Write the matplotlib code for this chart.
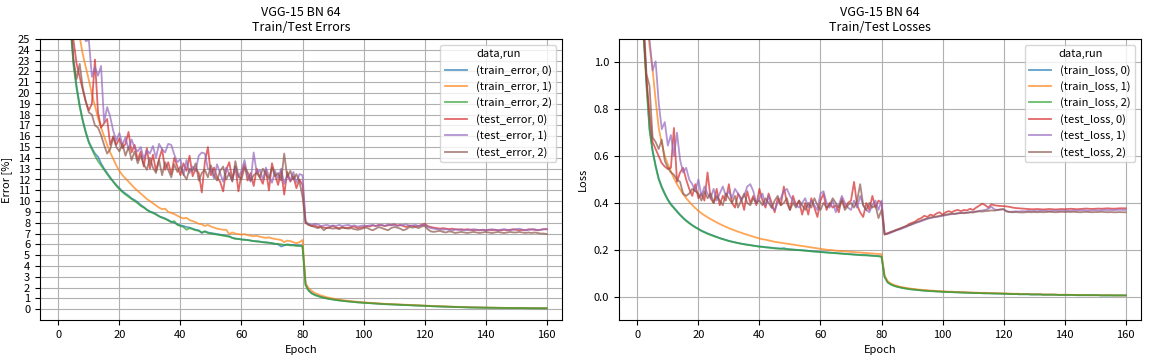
import matplotlib
matplotlib.use("Agg")
import matplotlib.pyplot as plt
import numpy as np

plt.rcParams['font.family'] = ['Noto Sans CJK JP', 'DejaVu Sans']
plt.rcParams['font.size'] = 8

epochs = list(range(1, 161))

# ---- errors [%] ----
train_error_0 = [
    62.0, 42.0, 32.0, 26.5, 22.8, 20.6, 18.9, 17.5, 16.4, 15.5,
    14.9, 14.4, 14.1, 13.5, 13.0, 12.6, 12.2, 11.8, 11.5, 11.2,
    10.9, 10.7, 10.5, 10.25, 10.1, 9.9, 9.65, 9.45, 9.2, 9.05,
    8.95, 8.8, 8.6, 8.5, 8.4, 8.25, 8.1, 8.0, 7.85, 7.75,
    7.7, 7.6, 7.55, 7.45, 7.35, 7.3, 7.05, 7.2, 7.1, 7.05,
    7.0, 6.95, 6.9, 6.85, 6.8, 6.75, 6.6, 6.55, 6.5, 6.45,
    6.45, 6.4, 6.35, 6.3, 6.3, 6.25, 6.2, 6.2, 6.15, 6.1,
    6.05, 6.0, 5.8, 5.9, 6.0, 5.95, 5.95, 5.9, 5.9, 5.85,
    2.3, 1.75, 1.5, 1.35, 1.25, 1.15, 1.08, 1.0, 0.95, 0.9,
    0.86, 0.82, 0.78, 0.75, 0.72, 0.7, 0.67, 0.64, 0.62, 0.6,
    0.58, 0.56, 0.54, 0.52, 0.5, 0.49, 0.47, 0.46, 0.44, 0.43,
    0.42, 0.41, 0.4, 0.38, 0.37, 0.36, 0.35, 0.34, 0.33, 0.32,
    0.3, 0.28, 0.27, 0.26, 0.25, 0.24, 0.23, 0.22, 0.21, 0.2,
    0.19, 0.18, 0.18, 0.17, 0.16, 0.16, 0.15, 0.15, 0.14, 0.14,
    0.13, 0.13, 0.12, 0.12, 0.12, 0.11, 0.11, 0.11, 0.1, 0.1,
    0.1, 0.1, 0.09, 0.09, 0.09, 0.09, 0.08, 0.08, 0.08, 0.08]

train_error_1 = [
    70.0, 50.0, 39.0, 33.0, 29.5, 27.3, 25.2, 23.6, 22.4, 21.2,
    19.9, 18.8, 17.7, 16.8, 16.0, 15.2, 14.5, 13.9, 13.3, 12.8,
    12.4, 12.1, 11.8, 11.5, 11.2, 10.95, 10.7, 10.45, 10.2, 10.0,
    9.8, 9.6, 9.4, 9.25, 9.3, 9.0, 8.9, 8.8, 8.65, 8.5,
    8.4, 8.45, 8.25, 8.15, 8.05, 7.9, 7.85, 7.7, 7.8, 7.65,
    7.55, 7.45, 7.4, 7.35, 7.35, 6.95, 7.1, 7.0, 6.95, 6.9,
    6.95, 6.85, 6.8, 6.75, 6.8, 6.7, 6.65, 6.6, 6.65, 6.55,
    6.5, 6.45, 6.4, 6.2, 6.35, 6.3, 6.2, 6.1, 6.2, 6.4,
    2.4, 1.95, 1.7, 1.5, 1.38, 1.27, 1.18, 1.1, 1.04, 0.98,
    0.93, 0.88, 0.84, 0.8, 0.77, 0.74, 0.71, 0.68, 0.66, 0.63,
    0.61, 0.59, 0.57, 0.55, 0.53, 0.51, 0.5, 0.48, 0.47, 0.46,
    0.44, 0.43, 0.42, 0.41, 0.39, 0.38, 0.37, 0.36, 0.35, 0.34,
    0.32, 0.3, 0.29, 0.28, 0.27, 0.26, 0.25, 0.24, 0.23, 0.22,
    0.21, 0.2, 0.19, 0.19, 0.18, 0.17, 0.17, 0.16, 0.16, 0.15,
    0.15, 0.14, 0.14, 0.13, 0.13, 0.12, 0.12, 0.12, 0.11, 0.11,
    0.11, 0.1, 0.1, 0.1, 0.1, 0.09, 0.09, 0.09, 0.09, 0.09]

train_error_2 = [
    60.0, 41.0, 31.0, 26.0, 22.5, 20.4, 18.7, 17.4, 16.3, 15.4,
    14.8, 14.2, 13.7, 13.3, 12.9, 12.5, 12.1, 11.8, 11.4, 11.1,
    10.85, 10.6, 10.4, 10.2, 10.0, 9.8, 9.55, 9.4, 9.2, 9.0,
    8.9, 8.75, 8.6, 8.45, 8.35, 8.2, 8.05, 8.15, 7.8, 7.7,
    7.6, 7.35, 7.5, 7.4, 7.3, 7.25, 7.1, 7.2, 7.05, 7.0,
    6.95, 6.9, 6.85, 6.8, 6.75, 6.7, 6.6, 6.5, 6.5, 6.45,
    6.4, 6.4, 6.35, 6.3, 6.25, 6.25, 6.2, 6.15, 6.15, 6.1,
    6.05, 6.05, 6.0, 5.95, 5.95, 5.9, 5.9, 5.85, 5.85, 5.8,
    2.2, 1.7, 1.45, 1.3, 1.2, 1.12, 1.05, 0.98, 0.93, 0.88,
    0.84, 0.8, 0.77, 0.74, 0.71, 0.68, 0.66, 0.63, 0.61, 0.59,
    0.57, 0.55, 0.53, 0.51, 0.5, 0.48, 0.47, 0.45, 0.44, 0.43,
    0.41, 0.4, 0.39, 0.38, 0.37, 0.36, 0.35, 0.34, 0.33, 0.32,
    0.3, 0.28, 0.27, 0.26, 0.25, 0.24, 0.23, 0.22, 0.21, 0.2,
    0.19, 0.19, 0.18, 0.17, 0.17, 0.16, 0.15, 0.15, 0.14, 0.14,
    0.13, 0.13, 0.13, 0.12, 0.12, 0.11, 0.11, 0.11, 0.1, 0.1,
    0.1, 0.1, 0.1, 0.09, 0.09, 0.09, 0.09, 0.08, 0.08, 0.08]

test_error_0 = [
    70.0, 45.0, 33.0, 26.5, 24.8, 22.7, 21.5, 20.3, 19.2, 18.4,
    19.0, 23.1, 18.2, 16.8, 17.2, 17.6, 15.2, 16.0, 15.2, 15.8,
    14.9, 15.3, 16.4, 14.5, 15.2, 13.8, 14.6, 13.2, 14.9, 13.0,
    14.3, 12.8, 13.9, 14.8, 12.9, 13.6, 12.5, 14.0, 13.2, 12.4,
    13.5, 12.8, 14.2, 12.3, 13.0, 12.6, 10.8, 13.6, 15.0, 12.4,
    13.1, 12.2, 11.8, 10.9, 12.9, 13.6, 12.0, 13.2, 10.9, 12.5,
    13.4, 11.9, 12.6, 11.4, 13.0, 12.2, 11.6, 12.9, 11.0, 13.5,
    12.4, 11.5, 12.8, 10.6, 12.7, 11.8, 12.3, 11.2, 12.0, 11.5,
    8.0, 7.8, 7.7, 7.75, 7.6, 7.65, 7.55, 7.5, 7.6, 7.7,
    7.55, 7.5, 7.6, 7.5, 7.55, 7.6, 7.65, 7.5, 7.55, 7.6,
    7.7, 7.65, 7.75, 7.7, 7.8, 7.75, 7.7, 7.75, 7.8, 7.85,
    7.75, 7.8, 7.7, 7.6, 7.75, 7.7, 7.65, 7.7, 7.8, 7.9,
    7.7, 7.6, 7.55, 7.5, 7.45, 7.5, 7.45, 7.4, 7.45, 7.4,
    7.35, 7.4, 7.35, 7.4, 7.35, 7.3, 7.35, 7.3, 7.35, 7.3,
    7.35, 7.3, 7.35, 7.3, 7.3, 7.35, 7.3, 7.35, 7.4, 7.35,
    7.3, 7.35, 7.3, 7.35, 7.4, 7.35, 7.3, 7.35, 7.4, 7.4]

test_error_1 = [
    80.0, 58.0, 44.0, 36.0, 31.0, 28.5, 27.0, 25.8, 24.8, 24.9,
    21.5, 22.4, 21.6, 22.5, 17.3, 18.7, 17.8, 16.5, 15.6, 16.3,
    15.2, 15.9, 14.8, 15.7, 14.9, 14.6, 15.0, 13.9, 14.7, 14.4,
    15.1, 14.0, 15.3, 14.8, 14.5, 15.3, 15.2, 14.3, 13.6, 13.9,
    12.4, 13.8, 12.6, 13.2, 12.8, 14.2, 14.5, 14.4, 13.0, 12.9,
    12.1, 13.4, 12.6, 11.8, 13.1, 12.5, 11.9, 13.2, 12.2, 12.8,
    13.8, 12.3, 11.8, 14.5, 12.6, 12.9, 12.0, 13.1, 12.3, 11.7,
    12.8, 12.1, 13.0, 11.6, 12.4, 11.9, 12.7, 11.7, 12.5, 12.4,
    8.1, 7.9, 7.8, 7.9, 7.85, 7.7, 7.75, 7.8, 7.7, 7.75,
    7.7, 7.8, 7.7, 7.75, 7.8, 7.7, 7.75, 7.65, 7.7, 7.75,
    7.7, 7.75, 7.8, 7.7, 7.75, 7.8, 7.7, 7.85, 7.75, 7.8,
    7.7, 7.75, 7.8, 7.85, 7.7, 7.75, 7.8, 7.7, 7.75, 7.8,
    7.6, 7.5, 7.45, 7.4, 7.4, 7.35, 7.4, 7.35, 7.3, 7.35,
    7.4, 7.3, 7.35, 7.3, 7.35, 7.4, 7.35, 7.3, 7.35, 7.3,
    7.35, 7.4, 7.35, 7.3, 7.35, 7.4, 7.35, 7.3, 7.35, 7.4,
    7.45, 7.35, 7.3, 7.4, 7.35, 7.4, 7.3, 7.35, 7.4, 7.4]

test_error_2 = [
    75.0, 46.0, 33.0, 27.0, 23.0, 21.3, 22.7, 20.5, 19.2, 18.2,
    18.0, 17.0, 16.8, 16.1, 15.2, 14.4, 14.8, 15.9, 15.0, 14.6,
    15.3, 14.2, 15.0, 13.8, 14.6, 13.5, 14.2, 13.4, 12.9, 14.0,
    13.1, 12.6, 13.8, 12.4, 13.6, 12.9, 12.2, 13.4, 12.7, 13.2,
    12.5, 12.0, 13.0, 12.8, 13.5, 11.9, 12.6, 12.9, 12.2, 13.3,
    12.4, 11.9, 12.8, 13.2, 12.0, 12.6, 11.8, 13.7, 12.3, 12.0,
    13.1, 12.7, 11.9, 12.4, 12.6, 12.2, 13.0, 12.5, 12.1, 13.1,
    12.3, 12.6, 11.9, 14.4, 12.2, 12.8, 12.0, 12.5, 11.8, 10.4,
    8.0, 7.8, 7.7, 7.6, 7.5, 7.6, 7.3, 7.55, 7.5, 7.45,
    7.5, 7.4, 7.55, 7.5, 7.45, 7.5, 7.4, 7.35, 7.4, 7.5,
    7.55, 7.4, 7.3, 7.45, 7.6, 7.5, 7.4, 7.3, 7.5, 7.6,
    7.55, 7.45, 7.3, 7.4, 7.6, 7.55, 7.6, 7.5, 7.65, 7.7,
    7.4, 7.2, 7.15, 7.2, 7.25, 7.15, 7.1, 7.2, 7.15, 7.05,
    7.1, 7.15, 7.1, 7.05, 7.1, 7.15, 7.1, 7.05, 7.1, 7.15,
    7.1, 7.05, 7.1, 7.15, 7.1, 7.05, 7.1, 7.15, 7.1, 7.1,
    7.15, 7.1, 7.05, 7.1, 7.05, 7.1, 7.05, 7.0, 7.0, 6.95]

# ---- losses ----
train_loss_0 = [
    1.9, 1.15, 0.92, 0.72, 0.625, 0.56, 0.505, 0.47, 0.44, 0.415,
    0.395, 0.38, 0.365, 0.35, 0.337, 0.325, 0.315, 0.305, 0.297, 0.289,
    0.282, 0.276, 0.27, 0.265, 0.26, 0.255, 0.25, 0.246, 0.242, 0.238,
    0.235, 0.232, 0.229, 0.226, 0.224, 0.222, 0.22, 0.218, 0.216, 0.214,
    0.213, 0.211, 0.21, 0.209, 0.207, 0.206, 0.205, 0.207, 0.203, 0.202,
    0.201, 0.2, 0.199, 0.198, 0.197, 0.195, 0.194, 0.193, 0.192, 0.191,
    0.19, 0.189, 0.188, 0.187, 0.186, 0.185, 0.184, 0.183, 0.182, 0.181,
    0.18, 0.179, 0.178, 0.178, 0.177, 0.176, 0.175, 0.174, 0.173, 0.171,
    0.085, 0.062, 0.053, 0.047, 0.043, 0.04, 0.037, 0.035, 0.033, 0.031,
    0.03, 0.028, 0.027, 0.026, 0.025, 0.024, 0.023, 0.022, 0.022, 0.021,
    0.02, 0.02, 0.019, 0.019, 0.018, 0.018, 0.017, 0.017, 0.016, 0.016,
    0.015, 0.015, 0.015, 0.014, 0.014, 0.014, 0.013, 0.013, 0.013, 0.012,
    0.012, 0.011, 0.011, 0.011, 0.01, 0.01, 0.01, 0.01, 0.009, 0.009,
    0.009, 0.009, 0.008, 0.008, 0.008, 0.008, 0.008, 0.007, 0.007, 0.007,
    0.007, 0.007, 0.007, 0.006, 0.006, 0.006, 0.006, 0.006, 0.006, 0.006,
    0.006, 0.005, 0.005, 0.005, 0.005, 0.005, 0.005, 0.005, 0.005, 0.005]

train_loss_1 = [
    2.1, 1.5, 1.2, 1.07, 0.97, 0.84, 0.72, 0.655, 0.6, 0.565,
    0.535, 0.505, 0.48, 0.458, 0.438, 0.42, 0.405, 0.391, 0.378, 0.366,
    0.356, 0.347, 0.339, 0.331, 0.324, 0.317, 0.31, 0.304, 0.298, 0.292,
    0.287, 0.282, 0.277, 0.273, 0.268, 0.264, 0.26, 0.256, 0.252, 0.248,
    0.245, 0.243, 0.24, 0.237, 0.234, 0.232, 0.23, 0.228, 0.226, 0.224,
    0.222, 0.22, 0.218, 0.216, 0.214, 0.212, 0.21, 0.208, 0.206, 0.204,
    0.202, 0.2, 0.199, 0.198, 0.196, 0.195, 0.194, 0.193, 0.192, 0.191,
    0.19, 0.189, 0.188, 0.187, 0.186, 0.185, 0.184, 0.183, 0.182, 0.181,
    0.09, 0.066, 0.056, 0.05, 0.046, 0.042, 0.04, 0.037, 0.035, 0.033,
    0.032, 0.03, 0.029, 0.028, 0.027, 0.026, 0.025, 0.024, 0.023, 0.023,
    0.022, 0.021, 0.021, 0.02, 0.02, 0.019, 0.019, 0.018, 0.018, 0.017,
    0.017, 0.016, 0.016, 0.016, 0.015, 0.015, 0.015, 0.014, 0.014, 0.014,
    0.013, 0.013, 0.012, 0.012, 0.012, 0.011, 0.011, 0.011, 0.01, 0.01,
    0.01, 0.01, 0.009, 0.009, 0.009, 0.009, 0.008, 0.008, 0.008, 0.008,
    0.008, 0.007, 0.007, 0.007, 0.007, 0.007, 0.007, 0.006, 0.006, 0.006,
    0.006, 0.006, 0.006, 0.006, 0.006, 0.005, 0.005, 0.005, 0.005, 0.005]

train_loss_2 = [
    1.85, 1.12, 0.9, 0.71, 0.62, 0.555, 0.5, 0.465, 0.437, 0.412,
    0.392, 0.377, 0.362, 0.348, 0.335, 0.323, 0.313, 0.304, 0.295, 0.288,
    0.28, 0.274, 0.268, 0.263, 0.258, 0.254, 0.249, 0.245, 0.241, 0.237,
    0.234, 0.231, 0.228, 0.226, 0.223, 0.221, 0.219, 0.217, 0.215, 0.213,
    0.212, 0.21, 0.209, 0.207, 0.206, 0.205, 0.204, 0.203, 0.202, 0.201,
    0.2, 0.199, 0.198, 0.197, 0.196, 0.195, 0.193, 0.192, 0.191, 0.19,
    0.189, 0.188, 0.187, 0.186, 0.185, 0.184, 0.183, 0.182, 0.181, 0.18,
    0.179, 0.178, 0.177, 0.176, 0.176, 0.175, 0.174, 0.173, 0.172, 0.17,
    0.083, 0.06, 0.052, 0.046, 0.042, 0.039, 0.036, 0.034, 0.032, 0.03,
    0.029, 0.028, 0.026, 0.025, 0.024, 0.023, 0.023, 0.022, 0.021, 0.02,
    0.02, 0.019, 0.019, 0.018, 0.018, 0.017, 0.017, 0.016, 0.016, 0.015,
    0.015, 0.015, 0.014, 0.014, 0.014, 0.013, 0.013, 0.013, 0.012, 0.012,
    0.012, 0.011, 0.011, 0.011, 0.01, 0.01, 0.01, 0.01, 0.009, 0.009,
    0.009, 0.009, 0.008, 0.008, 0.008, 0.008, 0.008, 0.007, 0.007, 0.007,
    0.007, 0.007, 0.007, 0.006, 0.006, 0.006, 0.006, 0.006, 0.006, 0.006,
    0.006, 0.005, 0.005, 0.005, 0.005, 0.005, 0.005, 0.005, 0.005, 0.005]

test_loss_0 = [
    1.8, 1.15, 0.93, 0.78, 0.66, 0.63, 0.6, 0.57, 0.555, 0.545,
    0.55, 0.72, 0.49, 0.53, 0.55, 0.5, 0.46, 0.43, 0.48, 0.42,
    0.44, 0.41, 0.53, 0.42, 0.40, 0.46, 0.39, 0.43, 0.41, 0.48,
    0.40, 0.38, 0.44, 0.42, 0.37, 0.45, 0.40, 0.43, 0.39, 0.46,
    0.41, 0.38, 0.44, 0.40, 0.36, 0.42, 0.39, 0.47, 0.40, 0.37,
    0.43, 0.39, 0.41, 0.35, 0.40, 0.35, 0.42, 0.38, 0.34, 0.41,
    0.44, 0.37, 0.40, 0.38, 0.39, 0.36, 0.42, 0.38, 0.40, 0.41,
    0.49, 0.39, 0.36, 0.34, 0.40, 0.37, 0.43, 0.38, 0.41, 0.40,
    0.265, 0.27, 0.275, 0.28, 0.285, 0.29, 0.295, 0.30, 0.31, 0.315,
    0.32, 0.33, 0.335, 0.345, 0.34, 0.35, 0.345, 0.355, 0.36, 0.35,
    0.36, 0.365, 0.36, 0.367, 0.37, 0.365, 0.37, 0.368, 0.375, 0.37,
    0.38, 0.388, 0.397, 0.39, 0.38, 0.394, 0.39, 0.388, 0.387, 0.386,
    0.385, 0.383, 0.38, 0.378, 0.377, 0.376, 0.375, 0.374, 0.373, 0.373,
    0.374, 0.373, 0.372, 0.373, 0.374, 0.373, 0.372, 0.373, 0.374, 0.373,
    0.374, 0.375, 0.374, 0.373, 0.374, 0.375, 0.376, 0.375, 0.374, 0.375,
    0.376, 0.375, 0.376, 0.377, 0.376, 0.375, 0.376, 0.377, 0.377, 0.377]

test_loss_1 = [
    2.0, 1.5, 1.2, 1.1, 0.965, 1.005, 0.83, 0.715, 0.745, 0.645,
    0.69, 0.6, 0.70, 0.585, 0.53, 0.55, 0.5, 0.48, 0.45, 0.5,
    0.43, 0.47, 0.44, 0.42, 0.46, 0.41, 0.44, 0.47, 0.43, 0.45,
    0.42, 0.46, 0.44, 0.41, 0.43, 0.47, 0.48, 0.45, 0.40, 0.42,
    0.44, 0.39, 0.43, 0.38, 0.37, 0.40, 0.42, 0.45, 0.46, 0.43,
    0.41, 0.39, 0.38, 0.40, 0.42, 0.38, 0.41, 0.39, 0.37, 0.44,
    0.45, 0.40, 0.38, 0.41, 0.36, 0.39, 0.43, 0.40, 0.38, 0.37,
    0.41, 0.38, 0.43, 0.39, 0.37, 0.36, 0.39, 0.41, 0.37, 0.41,
    0.27, 0.268, 0.272, 0.278, 0.283, 0.287, 0.292, 0.297, 0.303, 0.308,
    0.313, 0.318, 0.322, 0.327, 0.332, 0.335, 0.338, 0.34, 0.342, 0.345,
    0.347, 0.35, 0.352, 0.354, 0.356, 0.357, 0.359, 0.358, 0.36, 0.362,
    0.364, 0.366, 0.368, 0.37, 0.375, 0.384, 0.372, 0.37, 0.372, 0.373,
    0.365, 0.362, 0.363, 0.364, 0.363, 0.365, 0.364, 0.366, 0.365, 0.366,
    0.365, 0.366, 0.367, 0.366, 0.365, 0.366, 0.367, 0.366, 0.368, 0.367,
    0.366, 0.367, 0.368, 0.367, 0.368, 0.369, 0.368, 0.367, 0.368, 0.369,
    0.368, 0.369, 0.37, 0.369, 0.37, 0.369, 0.37, 0.371, 0.37, 0.37]

test_loss_2 = [
    1.9, 1.2, 0.95, 0.9, 0.68, 0.66, 0.63, 0.67, 0.58, 0.55,
    0.53, 0.52, 0.5, 0.49, 0.44, 0.43, 0.44, 0.46, 0.45, 0.44,
    0.41, 0.45, 0.42, 0.44, 0.40, 0.43, 0.41, 0.39, 0.44, 0.42,
    0.40, 0.43, 0.38, 0.41, 0.44, 0.40, 0.39, 0.42, 0.40, 0.41,
    0.39, 0.42, 0.40, 0.38, 0.41, 0.43, 0.39, 0.40, 0.42, 0.37,
    0.40, 0.38, 0.41, 0.39, 0.37, 0.40, 0.38, 0.42, 0.39, 0.37,
    0.40, 0.38, 0.39, 0.42, 0.40, 0.38, 0.41, 0.37, 0.39, 0.40,
    0.38, 0.41, 0.48, 0.39, 0.37, 0.40, 0.38, 0.39, 0.335, 0.37,
    0.265, 0.27, 0.276, 0.28, 0.286, 0.29, 0.296, 0.301, 0.305, 0.31,
    0.316, 0.32, 0.325, 0.33, 0.334, 0.338, 0.34, 0.342, 0.345, 0.347,
    0.35, 0.352, 0.354, 0.353, 0.355, 0.357, 0.356, 0.358, 0.36, 0.359,
    0.362, 0.364, 0.363, 0.365, 0.366, 0.368, 0.367, 0.37, 0.372, 0.373,
    0.363, 0.361, 0.36, 0.361, 0.36, 0.359, 0.36, 0.361, 0.36, 0.361,
    0.36, 0.361, 0.36, 0.361, 0.362, 0.361, 0.36, 0.361, 0.362, 0.361,
    0.362, 0.361, 0.362, 0.361, 0.36, 0.361, 0.362, 0.361, 0.36, 0.361,
    0.361, 0.362, 0.361, 0.36, 0.361, 0.36, 0.36, 0.361, 0.36, 0.36]

colors = ['#1f77b4', '#ff7f0e', '#2ca02c', '#d62728', '#9467bd', '#8c564b']

error_series = [
    ('(train_error, 0)', train_error_0), ('(train_error, 1)', train_error_1),
    ('(train_error, 2)', train_error_2), ('(test_error, 0)', test_error_0),
    ('(test_error, 1)', test_error_1), ('(test_error, 2)', test_error_2)]
loss_series = [
    ('(train_loss, 0)', train_loss_0), ('(train_loss, 1)', train_loss_1),
    ('(train_loss, 2)', train_loss_2), ('(test_loss, 0)', test_loss_0),
    ('(test_loss, 1)', test_loss_1), ('(test_loss, 2)', test_loss_2)]

fig = plt.figure(figsize=(11.52, 3.6), dpi=100)
ax1 = fig.add_axes([40/1152, 40/360, 522/1152, 281/360])
ax2 = fig.add_axes([619/1152, 40/360, 522/1152, 281/360])

for (name, vals), c in zip(error_series, colors):
    ax1.plot(epochs, vals, color=c, alpha=0.7, lw=1.3, label=name)
ax1.set_xlim(-6, 165)
ax1.set_ylim(-1, 25)
ax1.set_yticks(range(0, 26))
ax1.set_xticks(range(0, 161, 20))
# darker lines every 5 % and every 40 epochs
ax1.set_yticks([0, 5, 10, 15, 20], minor=True)
ax1.set_xticks([0, 40, 80, 120], minor=True)
ax1.tick_params(which='minor', length=0)
ax1.grid(which='major', color='#b0b0b0', lw=0.8)
ax1.grid(which='minor', color='#808080', lw=1.2)
ax1.set_axisbelow(True)
ax1.set_xlabel('Epoch')
ax1.set_ylabel('Error [%]')
ax1.set_title('VGG-15 BN 64\nTrain/Test Errors', fontsize=9)
ax1.legend(title='data,run', loc='upper right', fontsize=8, title_fontsize=8)

for (name, vals), c in zip(loss_series, colors):
    ax2.plot(epochs, vals, color=c, alpha=0.7, lw=1.3, label=name)
ax2.set_xlim(-6, 165)
ax2.set_ylim(-0.1, 1.1)
ax2.set_xticks(range(0, 161, 20))
ax2.grid(color='#b0b0b0', lw=0.8)
ax2.set_axisbelow(True)
ax2.set_xlabel('Epoch')
ax2.set_ylabel('Loss')
ax2.set_title('VGG-15 BN 64\nTrain/Test Losses', fontsize=9)
ax2.legend(title='data,run', loc='upper right', fontsize=8, title_fontsize=8)

fig.savefig('out.png', dpi=100)
